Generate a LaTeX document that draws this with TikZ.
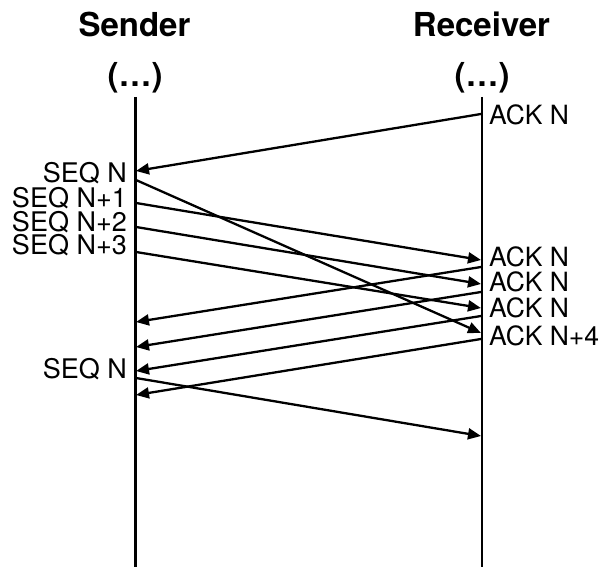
\documentclass[tikz,border=0pt]{standalone}
\usepackage{fontspec}
\setmainfont{TeX Gyre Heros}
\usetikzlibrary{arrows.meta}
\begin{document}
\begin{tikzpicture}[x=1pt,y=-1pt,
  lifeline/.style={line width=2.3pt},
  msg/.style={line width=2.3pt,-{Triangle[length=13pt,width=11pt]}},
  head/.style={font=\fontsize{33}{33}\selectfont\bfseries, inner sep=0pt, anchor=base},
  seqlbl/.style={font=\fontsize{27}{27}\selectfont, inner sep=0pt, anchor=base east},
  acklbl/.style={font=\fontsize{26.5}{26.5}\selectfont, inner sep=0pt, anchor=base west}]
\useasboundingbox (0,0) rectangle (606,567);
% headers
\node[head] (sname) at (134.5,37) {Sender};
\node[head] (rname) at (481.5,37) {Receiver};
\node[head] (sdots) at (135,87) {(…)};
\node[head] (rdots) at (482,87) {(…)};
% lifelines
\coordinate (stop) at (135.5,97);
\coordinate (sbot) at (135.5,567);
\coordinate (rtop) at (482,97);
\coordinate (rbot) at (482,567);
\draw[lifeline] (stop) -- (sbot);
\draw[lifeline] (rtop) -- (rbot);
% event points on sender
\coordinate (sA) at (136,171);
\coordinate (sS0) at (136,180);
\coordinate (sS1) at (136,203);
\coordinate (sS2) at (136,227);
\coordinate (sS3) at (136,252);
\coordinate (sR1) at (136,322);
\coordinate (sR2) at (136,347);
\coordinate (sR3) at (136,371);
\coordinate (sR4) at (136,395);
\coordinate (sS5) at (136,378);
% event points on receiver
\coordinate (rA) at (481,114);
\coordinate (rS1) at (481,260);
\coordinate (rS2) at (481,284);
\coordinate (rS3) at (481,308);
\coordinate (rS0) at (481,333);
\coordinate (rR1) at (481,267);
\coordinate (rR2) at (481,292);
\coordinate (rR3) at (481,316);
\coordinate (rR4) at (481,339);
\coordinate (rS5) at (481,436);
% messages
\draw[msg] (rA) -- (sA);
\draw[msg] (sS0) -- (rS0);
\draw[msg] (sS1) -- (rS1);
\draw[msg] (sS2) -- (rS2);
\draw[msg] (sS3) -- (rS3);
\draw[msg] (rR1) -- (sR1);
\draw[msg] (rR2) -- (sR2);
\draw[msg] (rR3) -- (sR3);
\draw[msg] (rR4) -- (sR4);
\draw[msg] (sS5) -- (rS5);
% labels
\node[seqlbl] (l1) at (127,183) {SEQ N};
\node[seqlbl] (l2) at (127,208) {SEQ N+1};
\node[seqlbl] (l3) at (127,232) {SEQ N+2};
\node[seqlbl] (l4) at (127,255) {SEQ N+3};
\node[seqlbl] (l5) at (127,378) {SEQ N};
\node[acklbl] (a1) at (489,125) {ACK N};
\node[acklbl] (a2) at (489,267) {ACK N};
\node[acklbl] (a3) at (489,292) {ACK N};
\node[acklbl] (a4) at (489,317) {ACK N};
\node[acklbl] (a5) at (489,345) {ACK N+4};
\end{tikzpicture}
\end{document}
